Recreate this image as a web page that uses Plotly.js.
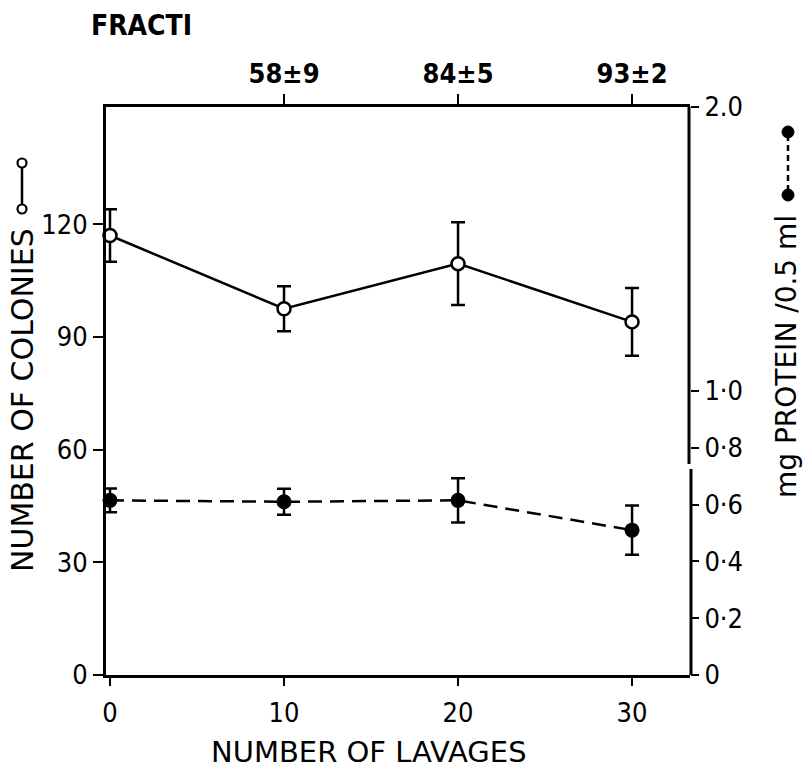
<!DOCTYPE html>
<html>
<head>
<meta charset="utf-8">
<script src="https://cdn.plot.ly/plotly-3.0.1.min.js"></script>
<style>html,body{margin:0;padding:0;background:#fff;}#chart{width:804px;height:772px;}</style>
</head>
<body>
<div id="chart"></div>
<script>
// Data
const lavages = [0, 10, 20, 30];
const colonies = [117, 97.5, 109.5, 94];
const coloniesErr = [7, 6, 11, 9];
const protein = [0.615, 0.61, 0.615, 0.51];
const proteinErr = [0.042, 0.046, 0.078, 0.087];

const leftTicks = [0, 30, 60, 90, 120];
const rightTickVals = [0, 0.2, 0.4, 0.6, 0.8, 1.0, 2.0];
const rightTickText = ['0', '0·2', '0·4', '0·6', '0·8', '1·0', '2.0'];
const bottomTicks = [0, 10, 20, 30];
const topTickVals = [10, 20, 30];
const topTickText = ['58±9', '84±5', '93±2'];

const FONT = 'DejaVu Sans Condensed, DejaVu Sans, sans-serif';
const TFONT = 'DejaVu Sans, sans-serif';

const traces = [
  {
    x: lavages, y: colonies, xaxis: 'x', yaxis: 'y',
    type: 'scatter', mode: 'lines+markers',
    line: {color: '#000', width: 2.5},
    marker: {symbol: 'circle', size: 13, color: '#fff', line: {color: '#000', width: 2.5}},
    error_y: {type: 'data', array: coloniesErr, visible: true, color: '#000', thickness: 2.5, width: 7},
    cliponaxis: false, showlegend: false, hoverinfo: 'skip'
  },
  {
    x: lavages, y: protein, xaxis: 'x', yaxis: 'y2',
    type: 'scatter', mode: 'lines+markers',
    line: {color: '#000', width: 2.5, dash: '14px,8px'},
    marker: {symbol: 'circle', size: 15, color: '#000'},
    error_y: {type: 'data', array: proteinErr, visible: true, color: '#000', thickness: 2.5, width: 7},
    cliponaxis: false, showlegend: false, hoverinfo: 'skip'
  },
  {
    // invisible trace to activate top axis
    x: topTickVals, y: [null, null, null], xaxis: 'x2', yaxis: 'y',
    type: 'scatter', mode: 'markers', showlegend: false, hoverinfo: 'skip'
  }
];

const W = 584, H = 568; // plot area px
function px(xp) { return (xp - 106) / W; }
function py(yp) { return (675 - yp) / H; }

const shapes = [];
// right axis line with a small break
shapes.push({type: 'line', xref: 'paper', yref: 'paper', x0: px(689), x1: px(689), y0: py(107), y1: py(464), line: {color: '#000', width: 3}});
shapes.push({type: 'line', xref: 'paper', yref: 'paper', x0: px(691), x1: px(691), y0: py(469), y1: py(675), line: {color: '#000', width: 3}});
// left legend symbol (open circles joined by solid line)
shapes.push({type: 'line', xref: 'paper', yref: 'paper', x0: px(22), x1: px(22), y0: py(167), y1: py(205), line: {color: '#000', width: 2.5}});
[163, 209].forEach(c => shapes.push({type: 'circle', xref: 'paper', yref: 'paper',
  x0: px(22 - 4.5), x1: px(22 + 4.5), y0: py(c + 4.5), y1: py(c - 4.5),
  fillcolor: '#fff', line: {color: '#000', width: 2.2}}));
// right legend symbol (filled circles joined by dashed line)
shapes.push({type: 'line', xref: 'paper', yref: 'paper', x0: px(788), x1: px(788), y0: py(135), y1: py(192), line: {color: '#000', width: 2.5, dash: '6px,4px'}});
[132, 195].forEach(c => shapes.push({type: 'circle', xref: 'paper', yref: 'paper',
  x0: px(788 - 6), x1: px(788 + 6), y0: py(c + 6), y1: py(c - 6),
  fillcolor: '#000', line: {color: '#000', width: 1}}));

const annotations = [
  {text: 'FRACTI', xref: 'paper', yref: 'paper', x: px(89), y: py(25), xanchor: 'left', yanchor: 'middle',
   showarrow: false, font: {family: FONT, size: 28, color: '#000', weight: 'bold'}},
  {text: 'NUMBER OF COLONIES', xref: 'paper', yref: 'paper', x: px(22), y: py(400), textangle: -90,
   xanchor: 'center', yanchor: 'middle', showarrow: false, borderpad: 0, font: {family: TFONT, size: 30, color: '#000'}},
  {text: 'mg PROTEIN /0.5 ml', xref: 'paper', yref: 'paper', x: px(786), y: py(357), textangle: -90,
   xanchor: 'center', yanchor: 'middle', showarrow: false, borderpad: 0, font: {family: TFONT, size: 28, color: '#000'}},
  {text: 'NUMBER OF LAVAGES', xref: 'paper', yref: 'paper', x: px(369), y: py(752),
   xanchor: 'center', yanchor: 'middle', showarrow: false, font: {family: TFONT, size: 29, color: '#000'}}
];

const layout = {
  width: 804, height: 772,
  margin: {l: 106, r: 114, t: 107, b: 97},
  paper_bgcolor: '#fff', plot_bgcolor: '#fff',
  font: {family: FONT, size: 27, color: '#000'},
  showlegend: false,
  xaxis: {
    range: [-0.23, 33.33], tickvals: bottomTicks, ticktext: bottomTicks.map(String),
    showline: true, linecolor: '#000', linewidth: 3, mirror: false,
    ticks: 'outside', ticklen: 8, tickwidth: 2.5, tickcolor: '#000', ticklabelstandoff: 4,
    showgrid: false, zeroline: false, tickfont: {family: FONT, size: 27, color: '#000'}
  },
  xaxis2: {
    overlaying: 'x', side: 'top', anchor: 'y', matches: 'x', range: [-0.23, 33.33],
    tickvals: topTickVals, ticktext: topTickText,
    showline: true, linecolor: '#000', linewidth: 3,
    ticks: 'outside', ticklen: 10, tickwidth: 2.5, tickcolor: '#000',
    showgrid: false, zeroline: false, tickfont: {family: FONT, size: 27, color: '#000', weight: 'bold'}
  },
  yaxis: {
    range: [0, 151.2], tickvals: leftTicks, ticktext: leftTicks.map(String),
    showline: true, linecolor: '#000', linewidth: 3,
    ticks: 'outside', ticklen: 10, tickwidth: 2, tickcolor: '#000',
    showgrid: false, zeroline: false, tickfont: {family: FONT, size: 27, color: '#000'}
  },
  yaxis2: {
    overlaying: 'y', side: 'right', anchor: 'x', range: [0, 2.0],
    tickvals: rightTickVals, ticktext: rightTickText,
    showline: false,
    ticks: 'outside', ticklen: 8, tickwidth: 2, tickcolor: '#000',
    showgrid: false, zeroline: false, tickfont: {family: FONT, size: 27, color: '#000'}
  },
  shapes: shapes,
  annotations: annotations
};

Plotly.newPlot('chart', traces, layout, {staticPlot: true, displayModeBar: false});
</script>
</body>
</html>
